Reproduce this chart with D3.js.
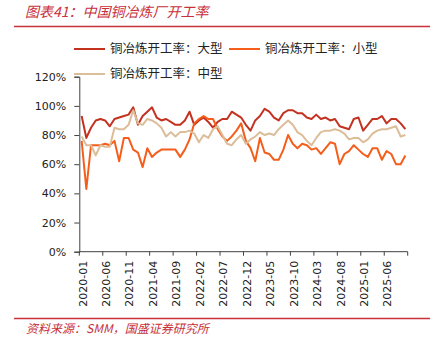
<!DOCTYPE html>
<html>
<head>
<meta charset="utf-8">
<script src="https://cdn.jsdelivr.net/npm/d3@7/dist/d3.min.js"></script>
<style>
  body { margin: 0; background: #fff; }
  svg { display: block; }
  .axis path, .axis line { stroke: #404040; }
  .axis text { font-family: "DejaVu Sans", Verdana, sans-serif; font-size: 11px; fill: #222; }
  .cjk { font-family: "Noto Sans CJK SC", sans-serif; }
</style>
</head>
<body>
<svg id="chart" width="446" height="343"></svg>
<script>
// monthly operating rates (%), 2020-01 .. 2025-10
var months = d3.timeMonth.range(new Date(2020, 0, 1), new Date(2025, 10, 1)).map(d3.timeFormat("%Y-%m"));

var largeRate = [93, 78, 85, 90, 91, 90, 86, 91, 92, 93, 94, 99, 87, 93, 96, 99, 92, 90, 91, 89,
                 87, 87, 90, 96, 87, 90, 92, 89, 85, 89, 91, 91, 96, 94, 92, 87, 83, 90, 93, 98,
                 96, 92, 90, 95, 97, 97, 95, 95, 92, 91, 94, 91, 92, 90, 91, 86, 85, 84, 91, 92,
                 83, 87, 91, 91, 93, 88, 91, 91, 88, 84];
var smallRate = [76, 43, 73, 73, 73, 74, 73, 76, 62, 78, 78, 70, 68, 58, 71, 65, 68, 70, 70, 70,
                 70, 65, 70, 77, 88, 91, 93, 91, 91, 84, 79, 76, 79, 83, 88, 76, 71, 62, 78, 68,
                 67, 63, 63, 70, 80, 74, 71, 74, 73, 70, 71, 67, 71, 75, 74, 60, 67, 69, 73, 70,
                 67, 65, 71, 71, 63, 69, 67, 60, 60, 66];
var mediumRate = [79, 73, 73, 66, 73, 72, 72, 85, 84, 84, 87, 97, 88, 87, 91, 90, 88, 85, 79, 82,
                  79, 82, 82, 83, 81, 75, 80, 78, 84, 86, 80, 74, 73, 77, 80, 74, 77, 79, 82, 80,
                  81, 80, 84, 87, 90, 87, 82, 80, 76, 73, 78, 82, 83, 83, 84, 83, 81, 77, 78, 78,
                  75, 77, 81, 83, 84, 84, 85, 86, 79, 80];

var yTicks = [0, 20, 40, 60, 80, 100, 120];

var series = [
    { name: "铜冶炼开工率：大型", values: largeRate, color: "#c3311f" },
    { name: "铜冶炼开工率：小型", values: smallRate, color: "#f55d1b" },
    { name: "铜冶炼开工率：中型", values: mediumRate, color: "#dcbd99" }
];

var svg = d3.select("#chart");
var plotLeft = 79.3, plotRight = 407.7, plotTop = 76.7, plotBottom = 251.7;
var titleRed = "#c8303a";

var x = d3.scaleBand().domain(months).range([plotLeft, plotRight]);
var y = d3.scaleLinear().domain([0, 120]).range([plotBottom, plotTop]);

// header and footer
svg.append("text").attr("class", "cjk")
    .attr("x", 25).attr("y", 17)
    .style("font-size", "14px").style("font-style", "italic")
    .attr("fill", titleRed)
    .text("图表41：中国铜冶炼厂开工率");
svg.append("line").attr("x1", 14).attr("x2", 430).attr("y1", 26.5).attr("y2", 26.5)
    .attr("stroke", titleRed).attr("stroke-width", 1.5);
svg.append("line").attr("x1", 14).attr("x2", 430).attr("y1", 318.5).attr("y2", 318.5)
    .attr("stroke", titleRed).attr("stroke-width", 1.5);
svg.append("text").attr("class", "cjk")
    .attr("x", 26).attr("y", 333)
    .style("font-size", "12px").style("font-style", "italic")
    .attr("fill", titleRed)
    .text("资料来源：SMM，国盛证券研究所");

// legend
var legendPos = [[74, 49], [229, 49], [74, 74]];
var legend = svg.selectAll("g.legend").data(series).enter().append("g")
    .attr("class", "legend")
    .attr("transform", function (d, i) { return "translate(" + legendPos[i][0] + "," + legendPos[i][1] + ")"; });
legend.append("line").attr("x1", 0).attr("x2", 31)
    .attr("stroke", function (d) { return d.color; }).attr("stroke-width", 2);
legend.append("text").attr("class", "cjk")
    .attr("x", 36).attr("dy", "0.35em")
    .style("font-size", "12.5px").attr("fill", "#222")
    .text(function (d) { return d.name; });

// axes
svg.append("g").attr("class", "axis")
    .attr("transform", "translate(" + plotLeft + ",0)")
    .call(d3.axisLeft(y).tickValues(yTicks).tickSize(5).tickPadding(8)
        .tickFormat(function (d) { return d + "%"; }));

var xAxis = svg.append("g").attr("class", "axis")
    .attr("transform", "translate(0," + plotBottom + ")");
xAxis.append("line").attr("x1", plotLeft).attr("x2", plotRight);
var tickMonths = months.filter(function (m, i) { return i % 5 === 0; });
var tickX = tickMonths.map(function (m) { return x(m); }).concat([plotRight]);
xAxis.selectAll("line.tick").data(tickX).enter().append("line")
    .attr("class", "tick")
    .attr("x1", function (d) { return d; }).attr("x2", function (d) { return d; })
    .attr("y1", 0).attr("y2", 4);
xAxis.selectAll("text").data(tickMonths).enter().append("text")
    .attr("transform", function (m) {
        return "translate(" + (x(m) + x.bandwidth() / 2 + 1) + ",9) rotate(-90)";
    })
    .attr("text-anchor", "end").attr("dy", "0.35em")
    .text(function (m) { return m; });

// series lines
var line = d3.line()
    .x(function (d, i) { return x(months[i]) + x.bandwidth() / 2; })
    .y(function (d) { return y(d); });

svg.selectAll("path.series").data(series).enter().append("path")
    .attr("class", "series")
    .attr("d", function (s) { return line(s.values); })
    .attr("fill", "none")
    .attr("stroke", function (s) { return s.color; })
    .attr("stroke-width", 2)
    .attr("stroke-linejoin", "round");
</script>
</body>
</html>
